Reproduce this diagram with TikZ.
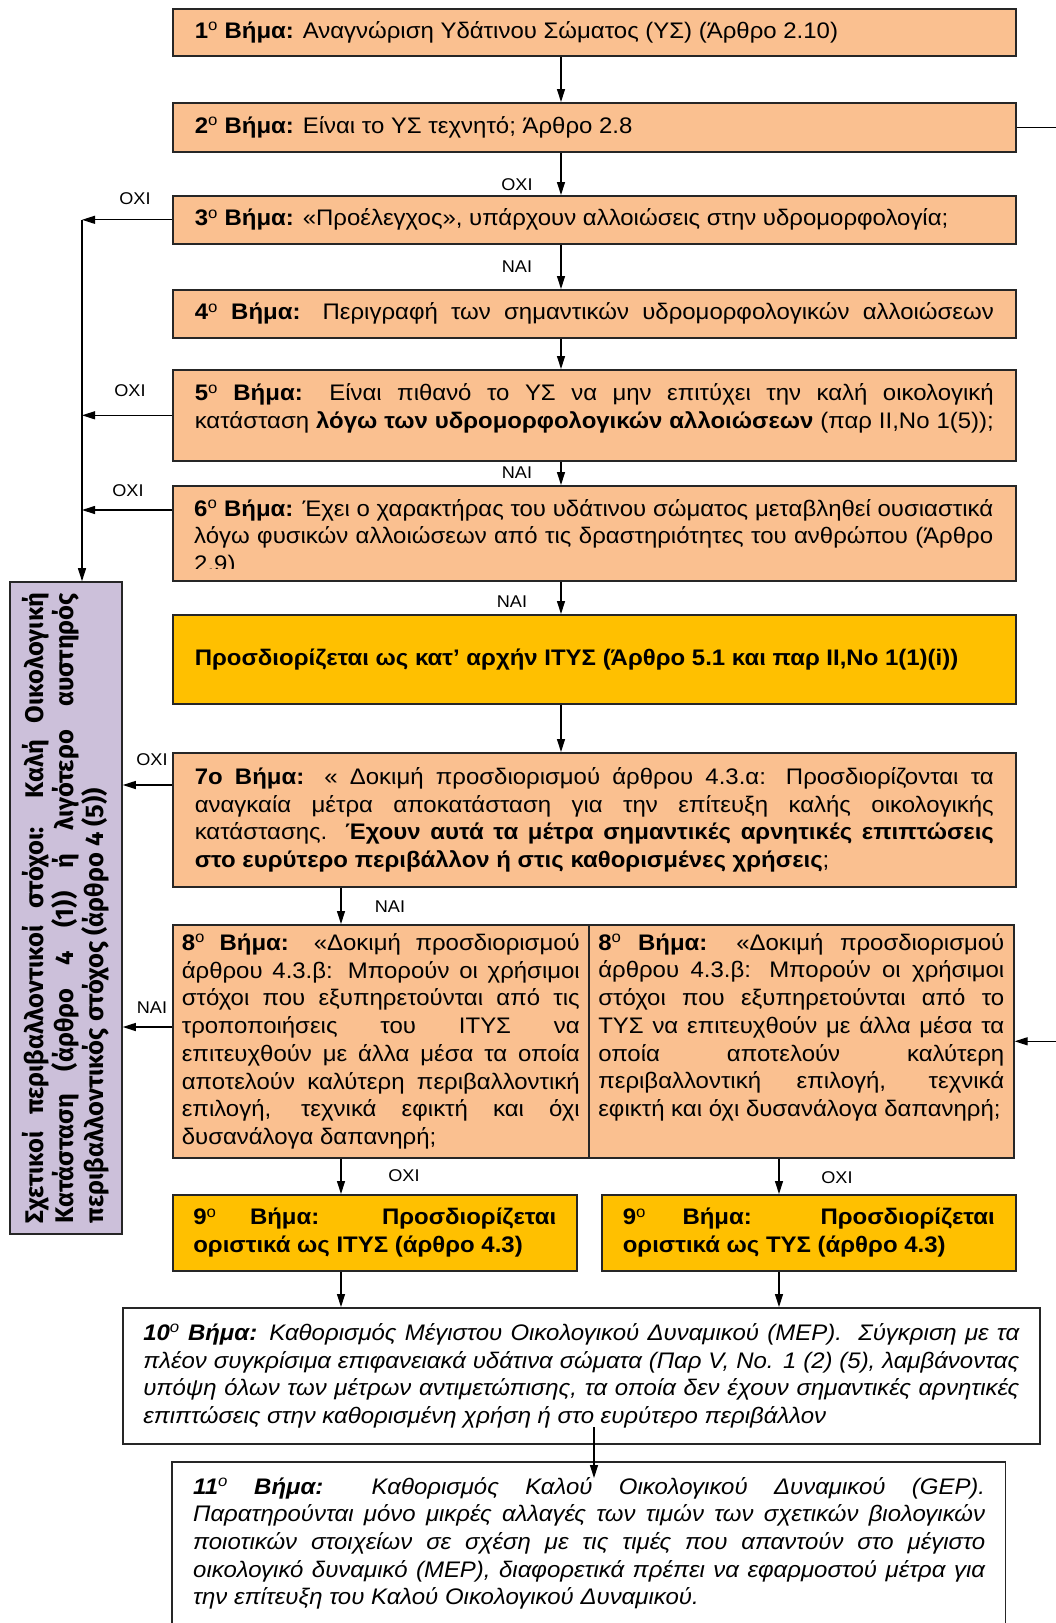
\documentclass[tikz,border=0pt]{standalone}
\usepackage{fontspec}
\setmainfont{Liberation Sans}[FakeStretch=1.065]
\newfontfamily\purplefont{Fira Sans}
\usetikzlibrary{arrows.meta}
\definecolor{peach}{HTML}{FAC090}
\definecolor{gold}{HTML}{FFC000}
\definecolor{lilac}{HTML}{CCC0DA}
\newcommand\bodyfont{\fontsize{22.5}{27.7}\selectfont}
\newcommand\lblfont{\fontsize{17}{19}\selectfont}
\newcommand\supo[1]{\textsuperscript{\mdseries #1}}
\hyphenpenalty=10000
\tikzset{
  box/.style={draw=black!85, line width=1.6pt, anchor=north west, inner xsep=22pt, inner ysep=0pt, align=justify, font=\bodyfont},
  obox/.style={box, fill=peach},
  gbox/.style={box, fill=gold},
  wbox/.style={box, fill=white},
  arr/.style={-{Triangle[length=13pt,width=8pt]}, line width=1.2pt},
  lbl/.style={font=\lblfont, inner sep=0pt},
}
\begin{document}
\begin{tikzpicture}[x=1pt,y=-1pt]
\useasboundingbox (0,0) rectangle (1056,1623);
\coordinate (xm) at (561,0);
\coordinate (xl) at (341,0);
\coordinate (xr) at (779,0);
\coordinate (xv) at (82,0);

\node[obox, minimum width=843pt, text width=799pt, minimum height=47pt] (b1) at (172,8)
  {\textbf{1\supo{o} Βήμα:} Αναγνώριση Υδάτινου Σώματος (ΥΣ) (Άρθρο 2.10)};
\node[obox, minimum width=843pt, text width=799pt, minimum height=49pt] (b2) at (172,102)
  {\textbf{2\supo{o} Βήμα:} Είναι το ΥΣ τεχνητό; Άρθρο 2.8};
\node[obox, minimum width=843pt, text width=799pt, minimum height=48pt] (b3) at (172,195)
  {\textbf{3\supo{o} Βήμα:} «Προέλεγχος», υπάρχουν αλλοιώσεις στην υδρομορφολογία;};
\node[obox, minimum width=843pt, text width=799pt, minimum height=48pt] (b4) at (172,289)
  {\hbox to \hsize{\textbf{4\supo{o} Βήμα:} Περιγραφή των σημαντικών υδρομορφολογικών αλλοιώσεων}};
\node[obox, minimum width=843pt, text width=799pt, minimum height=91pt, text depth=46pt] (b5) at (172,369)
  {\textbf{5\supo{o} Βήμα:} Είναι πιθανό το ΥΣ να μην επιτύχει την καλή οικολογική\linebreak
   \hbox to \hsize{κατάσταση \textbf{λόγω των υδρομορφολογικών αλλοιώσεων} (παρ II,No 1(5));}};
\node[obox, minimum width=843pt, text width=799pt, minimum height=95pt] (b6) at (172,485) {};
\begin{scope}
  \clip (172,485) rectangle (1015,568);
  \node[font=\bodyfont, text width=799pt, align=justify, anchor=north west, inner sep=0pt] (t6) at (194,499)
  {\textbf{6\supo{o} Βήμα:} Έχει ο χαρακτήρας του υδάτινου σώματος μεταβληθεί ουσιαστικά\linebreak
   λόγω φυσικών αλλοιώσεων από τις δραστηριότητες του ανθρώπου (Άρθρο\linebreak 2.9)};
\end{scope}
\node[gbox, minimum width=843pt, text width=799pt, minimum height=89pt] (itys) at (172,614)
  {\textbf{Προσδιορίζεται ως κατ’ αρχήν ΙΤΥΣ (Άρθρο 5.1 και παρ II,No 1(1)(i))}};
\node[obox, minimum width=843pt, text width=799pt, minimum height=134pt] (b7) at (172,752)
  {\textbf{7ο Βήμα:} « Δοκιμή προσδιορισμού άρθρου 4.3.α: Προσδιορίζονται τα\linebreak
   αναγκαία μέτρα αποκατάσταση για την επίτευξη καλής οικολογικής\linebreak
   κατάστασης. \textbf{Έχουν αυτά τα μέτρα σημαντικές αρνητικές επιπτώσεις\linebreak
   στο ευρύτερο περιβάλλον ή στις καθορισμένες χρήσεις};};
\node[obox, minimum width=416pt, text width=398pt, inner xsep=9pt, minimum height=233pt] (b8l) at (172,924)
  {\textbf{8\supo{o} Βήμα:} «Δοκιμή προσδιορισμού\linebreak
   άρθρου 4.3.β: Μπορούν οι χρήσιμοι\linebreak
   στόχοι που εξυπηρετούνται από τις\linebreak
   τροποποιήσεις του ΙΤΥΣ να\linebreak
   επιτευχθούν με άλλα μέσα τα οποία\linebreak
   αποτελούν καλύτερη περιβαλλοντική\linebreak
   επιλογή, τεχνικά εφικτή και όχι\linebreak
   δυσανάλογα δαπανηρή;};
\node[obox, minimum width=425pt, text width=406pt, inner xsep=9.5pt, minimum height=233pt, text depth=199pt] (b8r) at (588,924)
  {\textbf{8\supo{o} Βήμα:} «Δοκιμή προσδιορισμού\linebreak
   άρθρου 4.3.β: Μπορούν οι χρήσιμοι\linebreak
   στόχοι που εξυπηρετούνται από το\linebreak
   ΤΥΣ να επιτευχθούν με άλλα μέσα τα\linebreak
   οποία αποτελούν καλύτερη\linebreak
   περιβαλλοντική επιλογή, τεχνικά\linebreak
   εφικτή και όχι δυσανάλογα δαπανηρή;};
\node[gbox, minimum width=404pt, text width=363pt, inner xsep=20.5pt, minimum height=76pt] (b9l) at (172,1194)
  {\textbf{9\supo{o} Βήμα: Προσδιορίζεται\linebreak οριστικά ως ΙΤΥΣ (άρθρο 4.3)}};
\node[gbox, minimum width=414pt, text width=372pt, inner xsep=21pt, minimum height=76pt] (b9r) at (601,1194)
  {\textbf{9\supo{o} Βήμα: Προσδιορίζεται\linebreak οριστικά ως ΤΥΣ (άρθρο 4.3)}};
\node[wbox, minimum width=917pt, text width=876pt, inner xsep=20.5pt, minimum height=136pt] (b10) at (122,1307)
  {\itshape\textbf{10\supo{o} Βήμα:} Καθορισμός Μέγιστου Οικολογικού Δυναμικού (MEP).\ \ Σύγκριση με τα\linebreak
   πλέον συγκρίσιμα επιφανειακά υδάτινα σώματα (Παρ V, No. 1 (2) (5), λαμβάνοντας\linebreak
   υπόψη όλων των μέτρων αντιμετώπισης, τα οποία δεν έχουν σημαντικές αρνητικές\linebreak
   επιπτώσεις στην καθορισμένη χρήση ή στο ευρύτερο περιβάλλον};
\node[anchor=north west, minimum width=833pt, minimum height=175pt, inner sep=0pt] (b11) at (172,1462) {};
\draw[draw=black!85, line width=1.6pt] (b11.south west) -- (b11.north west) -- (b11.north east) -- (b11.south east);
\node[font=\bodyfont\itshape, text width=792pt, align=justify, anchor=north west, inner sep=0pt] (t11) at (193,1477)
  {\textbf{11\supo{o} Βήμα:} Καθορισμός Καλού Οικολογικού Δυναμικού (GEP).\linebreak
   Παρατηρούνται μόνο μικρές αλλαγές των τιμών των σχετικών βιολογικών\linebreak
   ποιοτικών στοιχείων σε σχέση με τις τιμές που απαντούν στο μέγιστο\linebreak
   οικολογικό δυναμικό (MEP), διαφορετικά πρέπει να εφαρμοστού μέτρα για\linebreak
   την επίτευξη του Καλού Οικολογικού Δυναμικού.};

\node[draw=black!85, line width=1.6pt, fill=lilac, rotate=90, minimum width=652pt, minimum height=112pt,
      text width=630pt, inner xsep=11pt, inner ysep=0pt, align=justify,
      font=\purplefont\bfseries\fontsize{25.5}{30}\selectfont] (purple) at (66,908)
  {Σχετικοί περιβαλλοντικοί στόχοι: Καλή Οικολογική\linebreak
   Κατάσταση (άρθρο 4 (1)) ή λιγότερο αυστηρός\linebreak
   περιβαλλοντικός στόχος (άρθρο 4 (5))};

% main vertical flow
\draw[arr] (b1.south -| xm) -- (b2.north -| xm);
\draw[arr] (b2.south -| xm) -- (b3.north -| xm);
\draw[arr] (b3.south -| xm) -- (b4.north -| xm);
\draw[arr] (b4.south -| xm) -- (b5.north -| xm);
\draw[arr] (b5.south -| xm) -- (b6.north -| xm);
\draw[arr] (b6.south -| xm) -- (itys.north -| xm);
\draw[arr] (itys.south -| xm) -- (b7.north -| xm);
\draw[arr] (b7.south -| xl) -- (b8l.north -| xl);
\draw[arr] (b8l.south -| xl) -- (b9l.north -| xl);
\draw[arr] (b8r.south -| xr) -- (b9r.north -| xr);
\draw[arr] (b9l.south -| xl) -- (b10.north -| xl);
\draw[arr] (b9r.south -| xr) -- (b10.north -| xr);
\coordinate (a10) at (594,1427);
\coordinate (a11) at (594,1478);
\draw[arr] (a10) -- (a11);

% left side (OXI / NAI to purple box)
\coordinate (o3) at (b3.west);
\coordinate (o6) at ([yshift=-25pt]b6.north west);
\coordinate (o7) at ([yshift=-33pt]b7.north west);
\coordinate (o8) at ([yshift=-103pt]b8l.north west);
\draw[arr] (o3) -- (o3 -| xv);
\draw[arr] (b5.west) -- (b5.west -| xv);
\draw[arr] (o6) -- (o6 -| xv);
\draw[arr] (o3 -| xv) -- (purple.east -| xv);
\draw[arr] (o7) -- (o7 -| purple.south);
\draw[arr] (o8) -- (o8 -| purple.south);

% right side loop from step 2 to step 8 (TYS)
\draw[arr] (b2.east) -- ++(51,0) |- (b8r.east);

% labels
\node[lbl] (l23) at (517,185) {ΟΧΙ};
\node[lbl] (l3v) at (135,199) {ΟΧΙ};
\node[lbl] (l34) at (517,267) {ΝΑΙ};
\node[lbl] (l5v) at (130,391) {ΟΧΙ};
\node[lbl] (l56) at (517,473) {ΝΑΙ};
\node[lbl] (l6v) at (128,491) {ΟΧΙ};
\node[lbl] (l6i) at (512,602) {ΝΑΙ};
\node[lbl] (l7v) at (152,760) {ΟΧΙ};
\node[lbl] (l78) at (390,907) {ΝΑΙ};
\node[lbl] (l8v) at (152,1008) {ΝΑΙ};
\node[lbl] (l89l) at (404,1176) {ΟΧΙ};
\node[lbl] (l89r) at (837,1178) {ΟΧΙ};
\end{tikzpicture}
\end{document}
